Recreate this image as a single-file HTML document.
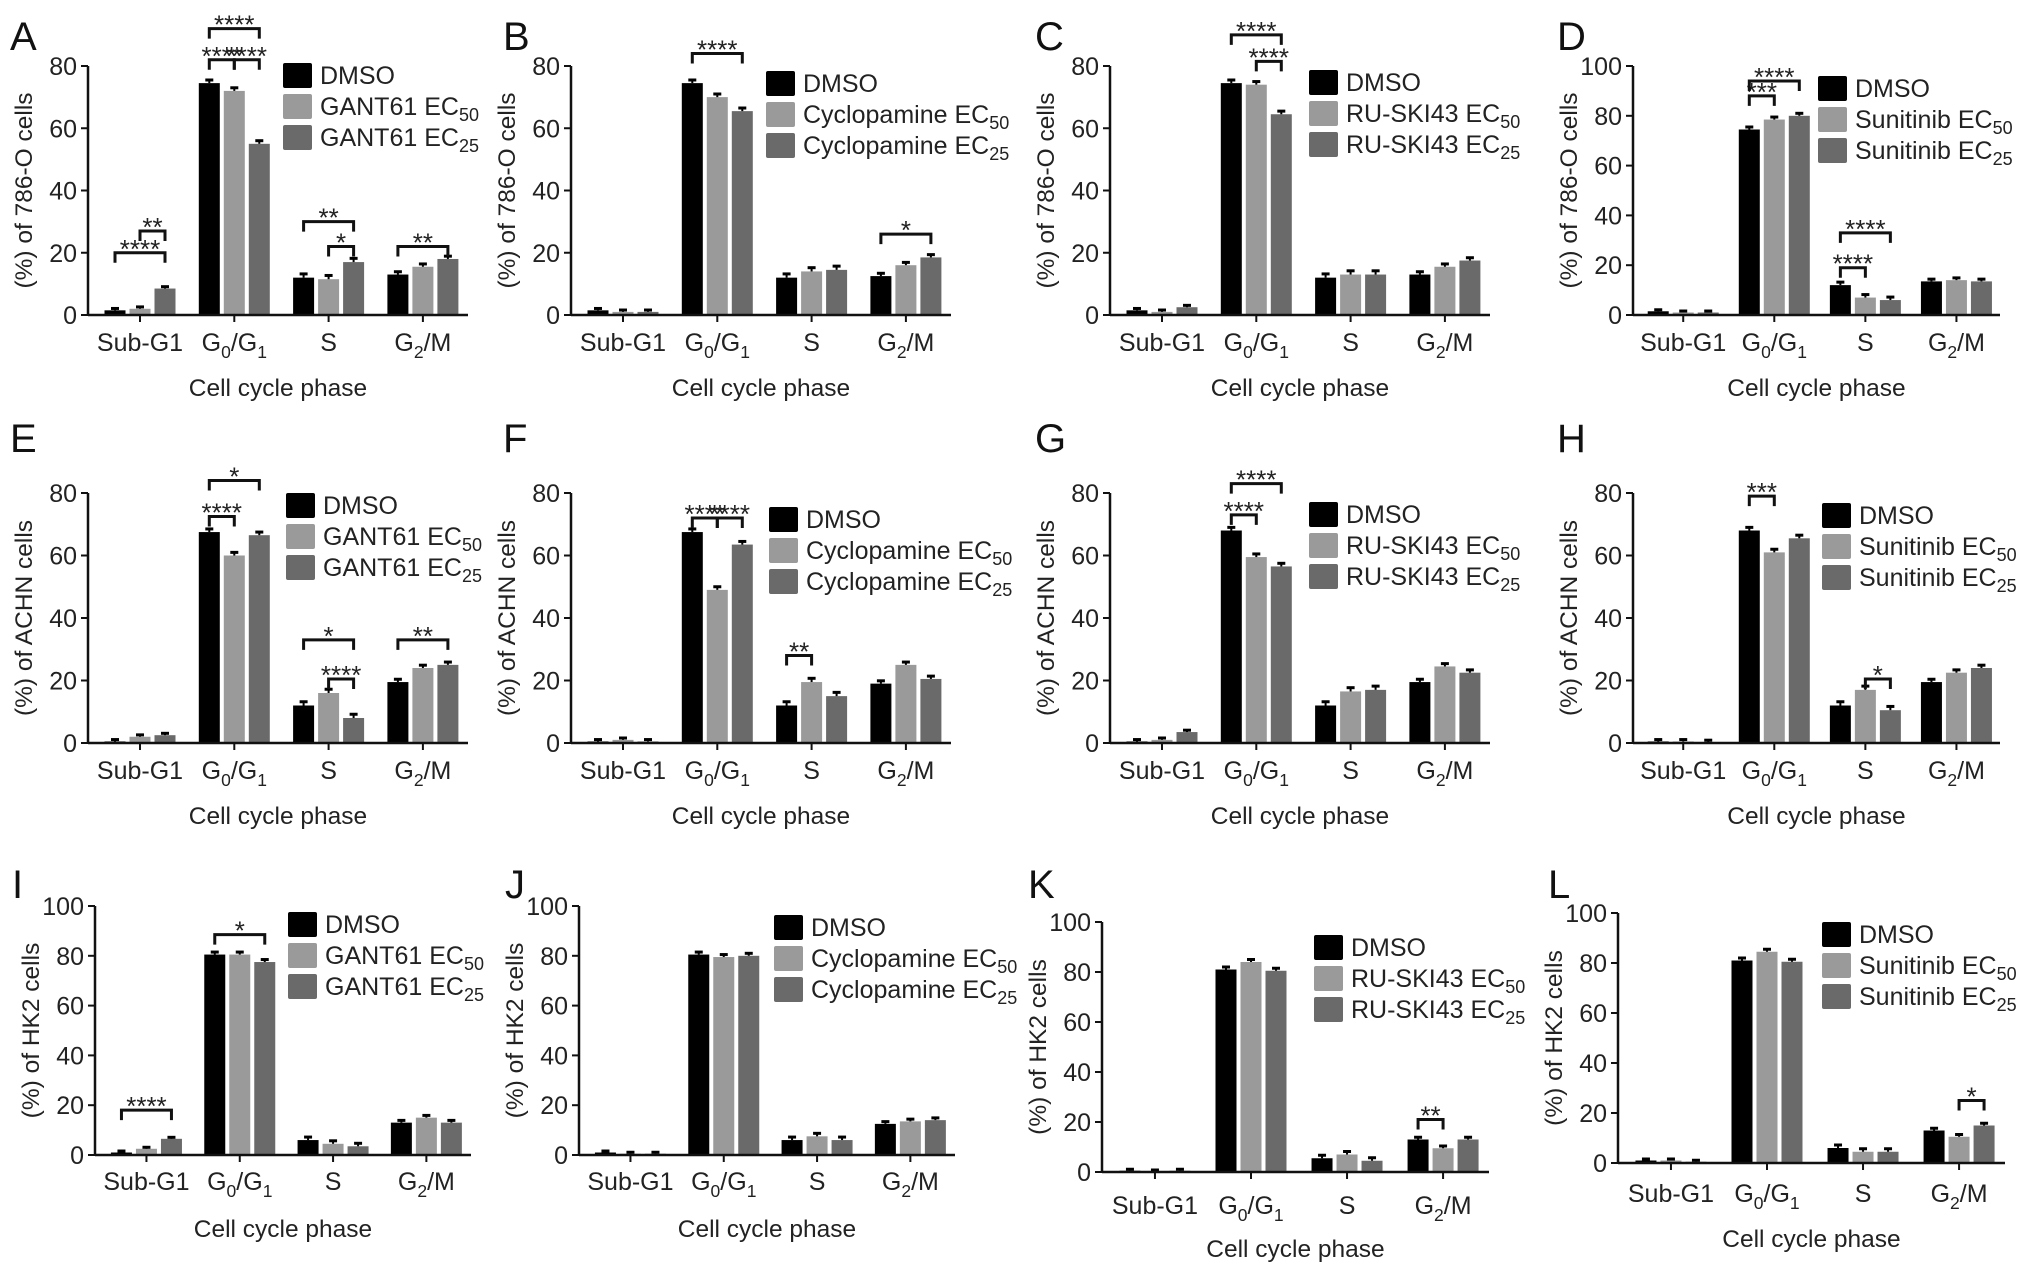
<!DOCTYPE html>
<html><head><meta charset="utf-8"><style>
html,body{margin:0;padding:0;background:#fff;}
svg{display:block;font-family:"Liberation Sans",Arial,sans-serif;}
</style></head><body>
<svg id="fig" width="2032" height="1275" viewBox="0 0 2032 1275" xmlns="http://www.w3.org/2000/svg"></svg>
<script>
// ---- data: categories & series (percent of cells) ----
const categories = ["Sub-G1","G0/G1","S","G2/M"];
const errBars = [0.6,1.0,1.2,0.9];
const dmsoA=[1.5,74.5,12,13], ec50A=[2,72,11.5,15.5], ec25A=[8.5,55,17,18];
const dmsoB=[1.5,74.5,12,12.5], ec50B=[1,70,14,16], ec25B=[1,65.5,14.5,18.5];
const dmsoC=[1.5,74.5,12,13], ec50C=[1,74,13,15.5], ec25C=[2.5,64.5,13,17.5];
const dmsoD=[1.5,74.5,12,13.5], ec50D=[1,78.5,7,14], ec25D=[1,80,6,13.5];
const dmsoE=[0.5,67.5,12,19.5], ec50E=[2,60,16,24], ec25E=[2.5,66.5,8,25];
const dmsoF=[0.5,67.5,12,19], ec50F=[1,49,19.5,25], ec25F=[0.5,63.5,15,20.5];
const dmsoG=[0.5,68,12,19.5], ec50G=[1,59.5,16.5,24.5], ec25G=[3.5,56.5,17,22.5];
const dmsoH=[0.5,68,12,19.5], ec50H=[0.5,61,17,22.5], ec25H=[0.3,65.5,10.5,24];
const dmsoI=[1,80.5,6,13], ec50I=[2.5,80.5,4.5,15], ec25I=[6.5,77.5,3.5,13];
const dmsoJ=[1,80.5,6,12.5], ec50J=[0.5,79.5,7.5,13.5], ec25J=[0.5,80,6,14];
const dmsoK=[0.5,81,5.5,13], ec50K=[0.2,84,7,9.5], ec25K=[0.5,80.5,4.5,13];
const dmsoL=[1,81,6,13], ec50L=[1,84.5,4.5,10.5], ec25L=[0.5,80.5,4.5,15];
const ticks80=[0,20,40,60,80], ticks100=[0,20,40,60,80,100];
// significance brackets: [category, barA, barB, level(value), label]
const sigA=[[0,0,2,20,"****"],[0,1,2,27,"**"],[1,0,1,82,"****"],[1,1,2,82,"****"],[1,0,2,92,"****"],[2,0,2,30,"**"],[2,1,2,22,"*"],[3,0,2,22,"**"]];
const sigB=[[1,0,2,84,"****"],[3,0,2,26,"*"]];
const sigC=[[1,0,2,90,"****"],[1,1,2,81.5,"****"]];
const sigD=[[1,0,1,88,"***"],[1,0,2,94,"****"],[2,0,2,33,"****"],[2,0,1,19,"****"]];
const sigE=[[1,0,1,72.5,"****"],[1,0,2,84,"*"],[2,0,2,33,"*"],[2,1,2,20.5,"****"],[3,0,2,33,"**"]];
const sigF=[[1,0,1,72,"****"],[1,1,2,72,"****"],[2,0,1,28,"**"]];
const sigG=[[1,0,1,73,"****"],[1,0,2,83,"****"]];
const sigH=[[1,0,1,79,"***"],[2,1,2,20.5,"*"]];
const sigI=[[0,0,2,18,"****"],[1,0,2,88.5,"*"]];
const sigJ=[];
const sigK=[[3,0,1,21,"**"]];
const sigL=[[3,1,2,25,"*"]];

const NS="http://www.w3.org/2000/svg";
const svg=document.getElementById('fig');
const colors=["#000000","#9a9a9a","#6a6a6a"];
function el(tag,attrs,parent){const e=document.createElementNS(NS,tag);for(const k in attrs)e.setAttribute(k,attrs[k]);(parent||svg).appendChild(e);return e;}

function catLabel(g,x,y,i,fs){
  const t=el('text',{x:x,y:y,'text-anchor':'middle','font-size':fs,fill:'#222'},g);
  
  
  const c=categories[i];
  if(c==="G0/G1"){t.innerHTML='G<tspan font-size="'+(fs*0.7)+'" dy="7">0</tspan><tspan dy="-7">/G</tspan><tspan font-size="'+(fs*0.7)+'" dy="7">1</tspan>';}
  else if(c==="G2/M"){t.innerHTML='G<tspan font-size="'+(fs*0.7)+'" dy="7">2</tspan><tspan dy="-7">/M</tspan>';}
  else t.textContent=c;
}

function panel(p){
  const g=el('g',{});
  
  
  const w=p.w||380, h=p.zero-p.top;
  const ys=v=>p.zero-v/p.ymax*h;
  const xs=(ci,bi)=>p.ox+w*(52+ci*94.3)/380+(bi-1)*25;
  const L=el('text',{x:p.lx,y:p.ly,'font-size':40,fill:'#111'},g);
  L.textContent=p.letter;
  
  
  p.series.forEach((s,bi)=>{
    s.forEach((v,ci)=>{
      const x=xs(ci,bi);
      const r=el('rect',{x:x-10.5,y:ys(v),width:21,height:p.zero-ys(v),fill:colors[bi]},g);
      
      
      const e=errBars[ci];
      const ln=el('line',{x1:x,x2:x,y1:ys(v),y2:ys(v+e),stroke:'#000','stroke-width':2},g);
      
      
      el('line',{x1:x-4,x2:x+4,y1:ys(v+e),y2:ys(v+e),stroke:'#000','stroke-width':3},g);
    });
  });
  const ya=el('line',{x1:p.ox,x2:p.ox,y1:p.top,y2:p.zero+1,stroke:'#111','stroke-width':2.5},g);
  
  
  const xa=el('line',{x1:p.ox,x2:p.ox+w,y1:p.zero,y2:p.zero,stroke:'#111','stroke-width':2.5},g);
  
  
  p.ticks.forEach(t=>{
    el('line',{x1:p.ox-7,x2:p.ox,y1:ys(t),y2:ys(t),stroke:'#111','stroke-width':2},g);
    const tl=el('text',{x:p.ox-11,y:ys(t)+9,'text-anchor':'end','font-size':25,fill:'#222'},g);
    tl.textContent=t;
    
    
  });
  categories.forEach((c,ci)=>{
    const x=xs(ci,1);
    el('line',{x1:x,x2:x,y1:p.zero,y2:p.zero+7,stroke:'#111','stroke-width':2},g);
    catLabel(g,x,p.zero+p.lab+9,ci,25);
  });
  const xt=el('text',{x:p.ox+w*0.5,y:p.zero+p.tit+9,'text-anchor':'middle','font-size':24.5,fill:'#222'},g);
  xt.textContent='Cell cycle phase';
  
  
  const yt=el('text',{x:0,y:0,'text-anchor':'middle','font-size':24.5,fill:'#222',transform:'translate('+(p.ox-56)+','+((p.top+p.zero)/2)+') rotate(-90)'},g);
  yt.textContent=p.ylabel;
  
  
  p.legend.forEach((name,i)=>{
    const y=p.top+p.legY+i*31;
    const sq=el('rect',{x:p.ox+p.legX,y:y-12,width:29,height:25,rx:2,fill:colors[i]},g);
    
    
    const t=el('text',{x:p.ox+p.legX+37,y:y+9,'font-size':25,fill:'#222'},g);
    
    
    if(i===0)t.textContent=name;
    else t.innerHTML=name+' EC<tspan font-size="18" dy="6">'+(i===1?'50':'25')+'</tspan>';
  });
  p.sig.forEach(s=>{
    const x1=xs(s[0],s[1]),x2=xs(s[0],s[2]),y=ys(s[3]);
    const b=el('path',{d:'M'+x1+','+(y+10)+'V'+y+'H'+x2+'V'+(y+10),fill:'none',stroke:'#111','stroke-width':3},g);
    
    
    const t=el('text',{x:(x1+x2)/2,y:y+5,'text-anchor':'middle','font-size':26,fill:'#222'},g);
    t.textContent=s[4];
    
    
  });
}

const r1={top:66,zero:315,lab:27,tit:72}, r2={top:493,zero:743,lab:27,tit:72}, r3={top:906,zero:1155,lab:26,tit:73};
const P=[
 {letter:'A',ox:88,lx:10,ly:50,...r1,ymax:80,ticks:ticks80,ylabel:'(%) of 786-O cells',legend:['DMSO','GANT61','GANT61'],legX:195,legY:9,series:[dmsoA,ec50A,ec25A],sig:sigA},
 {letter:'B',ox:571,lx:503,ly:50,...r1,ymax:80,ticks:ticks80,ylabel:'(%) of 786-O cells',legend:['DMSO','Cyclopamine','Cyclopamine'],legX:195,legY:17,series:[dmsoB,ec50B,ec25B],sig:sigB},
 {letter:'C',ox:1110,lx:1035,ly:50,...r1,ymax:80,ticks:ticks80,ylabel:'(%) of 786-O cells',legend:['DMSO','RU-SKI43','RU-SKI43'],legX:199,legY:16,series:[dmsoC,ec50C,ec25C],sig:sigC},
 {letter:'D',ox:1633,lx:1557,ly:50,...r1,w:367,ymax:100,ticks:ticks100,ylabel:'(%) of 786-O cells',legend:['DMSO','Sunitinib','Sunitinib'],legX:185,legY:22,series:[dmsoD,ec50D,ec25D],sig:sigD},
 {letter:'E',ox:88,lx:10,ly:452,...r2,ymax:80,ticks:ticks80,ylabel:'(%) of ACHN cells',legend:['DMSO','GANT61','GANT61'],legX:198,legY:12,series:[dmsoE,ec50E,ec25E],sig:sigE},
 {letter:'F',ox:571,lx:503,ly:452,...r2,ymax:80,ticks:ticks80,ylabel:'(%) of ACHN cells',legend:['DMSO','Cyclopamine','Cyclopamine'],legX:198,legY:26,series:[dmsoF,ec50F,ec25F],sig:sigF},
 {letter:'G',ox:1110,lx:1035,ly:452,...r2,ymax:80,ticks:ticks80,ylabel:'(%) of ACHN cells',legend:['DMSO','RU-SKI43','RU-SKI43'],legX:199,legY:21,series:[dmsoG,ec50G,ec25G],sig:sigG},
 {letter:'H',ox:1633,lx:1557,ly:452,...r2,w:367,ymax:80,ticks:ticks80,ylabel:'(%) of ACHN cells',legend:['DMSO','Sunitinib','Sunitinib'],legX:189,legY:22,series:[dmsoH,ec50H,ec25H],sig:sigH},
 {letter:'I',ox:95,lx:12,ly:898,...r3,w:376,ymax:100,ticks:ticks100,ylabel:'(%) of HK2 cells',legend:['DMSO','GANT61','GANT61'],legX:193,legY:18,series:[dmsoI,ec50I,ec25I],sig:sigI},
 {letter:'J',ox:579,lx:505,ly:898,...r3,w:376,ymax:100,ticks:ticks100,ylabel:'(%) of HK2 cells',legend:['DMSO','Cyclopamine','Cyclopamine'],legX:195,legY:21,series:[dmsoJ,ec50J,ec25J],sig:sigJ},
 {letter:'K',ox:1102,lx:1028,ly:898,top:922,zero:1172,lab:33,tit:76,w:387,ymax:100,ticks:ticks100,ylabel:'(%) of HK2 cells',legend:['DMSO','RU-SKI43','RU-SKI43'],legX:212,legY:25,series:[dmsoK,ec50K,ec25K],sig:sigK},
 {letter:'L',ox:1618,lx:1548,ly:898,top:913,zero:1163,lab:30,tit:75,w:387,ymax:100,ticks:ticks100,ylabel:'(%) of HK2 cells',legend:['DMSO','Sunitinib','Sunitinib'],legX:204,legY:21,series:[dmsoL,ec50L,ec25L],sig:sigL}
];
P.forEach(panel);
</script>
</body></html>
